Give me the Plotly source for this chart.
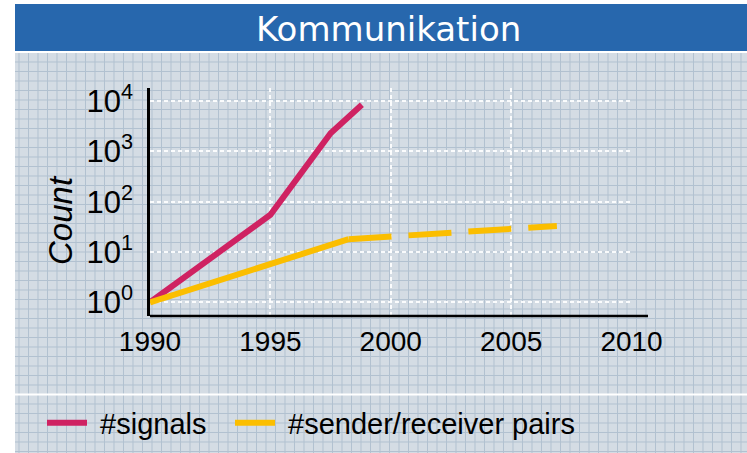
import plotly.graph_objects as go

# ---- data -------------------------------------------------------------
signal_years = [1990, 1995, 1997.5, 1998.8]
signal_counts = [1, 55, 2300, 8500]

pair_years_known = [1990, 1998.25]
pair_counts_known = [1, 18]

pair_years_projected = [1998.25, 2006.9]
pair_counts_projected = [18, 33]

x_ticks = [1990, 1995, 2000, 2005, 2010]
y_exponents = [0, 1, 2, 3, 4]
y_tick_vals = [10 ** e for e in y_exponents]
y_tick_text = [f"10<sup>{e}</sup>" for e in y_exponents]

# ---- geometry ---------------------------------------------------------
W, H = 747, 453
ML, MR, MT, MB = 150, 115, 88, 137
PW, PH = W - ML - MR, H - MT - MB


def px_x(px):
    return (px - ML) / PW


def px_y(py):
    return (MT + PH - py) / PH


MAGENTA = "#CF2262"
YELLOW = "#FBBE00"
FONT = "Liberation Sans, Arial, sans-serif"
NBSP = "\u00a0"

fig = go.Figure()

fig.add_trace(go.Scatter(
    x=signal_years, y=signal_counts, mode="lines", name=NBSP + "#signals",
    line=dict(color=MAGENTA, width=6), legend="legend",
))
fig.add_trace(go.Scatter(
    x=pair_years_known, y=pair_counts_known, mode="lines",
    name=NBSP + "#sender/receiver pairs", legendgroup="pairs",
    line=dict(color=YELLOW, width=6), legend="legend2",
))
fig.add_trace(go.Scatter(
    x=pair_years_projected, y=pair_counts_projected, mode="lines",
    name="#sender/receiver pairs", legendgroup="pairs", showlegend=False,
    line=dict(color=YELLOW, width=6, dash="43px,17px"), legend="legend2",
))

# ---- background: graph paper, title bar, separator ----------------------
shapes = []
shapes.append(dict(type="rect", xref="paper", yref="paper", layer="below",
                   x0=px_x(15), x1=px_x(W), y0=px_y(53), y1=px_y(H),
                   fillcolor="#D4DCE4", line=dict(width=0)))

path = []
gx = 19.0
while gx < W:
    path.append(f"M{px_x(gx):.5f},{px_y(53):.5f}L{px_x(gx):.5f},{px_y(H):.5f}")
    gx += 9.5
gy = 62.0
while gy < H:
    path.append(f"M{px_x(15):.5f},{px_y(gy):.5f}L{px_x(W):.5f},{px_y(gy):.5f}")
    gy += 9.5
shapes.append(dict(type="path", xref="paper", yref="paper", layer="below",
                   path="".join(path), line=dict(color="#B2C1D0", width=1)))

shapes.append(dict(type="rect", xref="paper", yref="paper", layer="below",
                   x0=px_x(15), x1=px_x(W), y0=px_y(51), y1=px_y(53),
                   fillcolor="white", line=dict(width=0)))
shapes.append(dict(type="rect", xref="paper", yref="paper", layer="below",
                   x0=px_x(15), x1=px_x(W), y0=px_y(4), y1=px_y(51),
                   fillcolor="#2767AD", line=dict(width=0)))
shapes.append(dict(type="rect", xref="paper", yref="paper", layer="below",
                   x0=px_x(15), x1=px_x(W), y0=px_y(393.5), y1=px_y(395.5),
                   fillcolor="white", line=dict(width=0)))

# x axis line runs a little past the last gridline
shapes.append(dict(type="line", xref="paper", yref="paper", layer="above",
                   x0=0, x1=px_x(648), y0=0, y1=0,
                   line=dict(color="black", width=2.5)))

legend_style = dict(
    orientation="h", xanchor="left", y=px_y(423), yanchor="middle",
    font=dict(family=FONT, size=29, color="black"),
    bgcolor="rgba(0,0,0,0)", itemwidth=40,
)

fig.update_layout(
    width=W, height=H,
    margin=dict(l=ML, r=MR, t=MT, b=MB, autoexpand=False),
    paper_bgcolor="white",
    plot_bgcolor="rgba(0,0,0,0)",
    shapes=shapes,
    font=dict(family=FONT, color="black", size=28),
    showlegend=True,
    legend=dict(x=px_x(42), **legend_style),
    legend2=dict(x=px_x(230), **legend_style),
    annotations=[
        dict(text="Kommunikation", xref="paper", yref="paper",
             x=px_x(388), y=px_y(29), showarrow=False,
             font=dict(family="DejaVu Sans", size=34, color="white"),
             xanchor="center", yanchor="middle"),
        dict(text="<i>Count</i>", xref="paper", yref="paper",
             x=px_x(60), y=px_y(220), showarrow=False, textangle=-90,
             font=dict(family=FONT, size=33, color="black"),
             xanchor="center", yanchor="middle"),
    ],
)

fig.update_xaxes(
    range=[1990, 2010.02], tickvals=x_ticks,
    showgrid=True, gridcolor="rgba(255,255,255,0.9)", gridwidth=1.5,
    griddash="4px,3px", zeroline=False, showline=False,
    ticks="", tickfont=dict(size=28), ticklabelstandoff=6,
)
fig.update_yaxes(
    type="log", range=[-0.272, 4.261],
    tickvals=y_tick_vals, ticktext=y_tick_text,
    showgrid=True, gridcolor="rgba(255,255,255,0.9)", gridwidth=1.5,
    griddash="4px,3px", zeroline=False,
    showline=True, linecolor="black", linewidth=2.5,
    ticks="", tickfont=dict(size=31), ticklabelstandoff=8,
)

fig.write_html("out.html")
